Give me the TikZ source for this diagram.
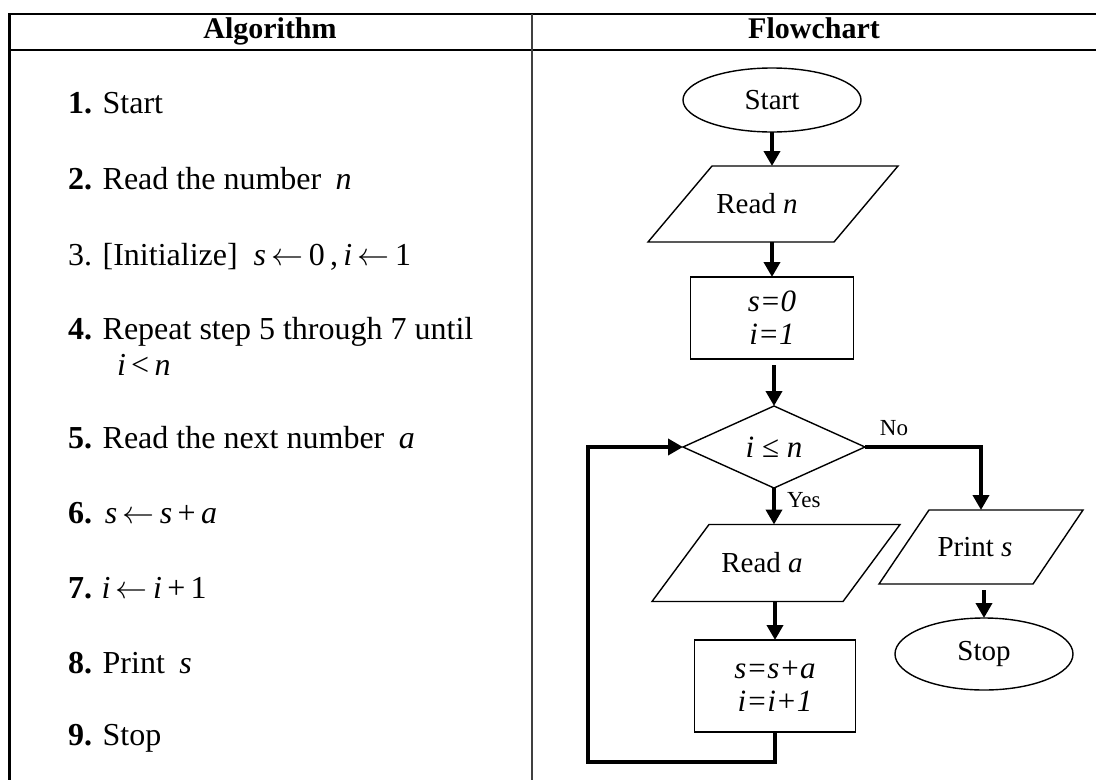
\RequirePackage{fix-cm}
\documentclass[tikz,border=0pt]{standalone}
\usepackage{fontspec}
\setmainfont{Liberation Serif}
\usetikzlibrary{shapes.geometric,arrows.meta}
\newcommand{\paradraw}[2]{\draw[line width=1.4pt, line join=miter] ([xshift=#2]#1.north west) -- (#1.north east) -- ([xshift=-#2]#1.south east) -- (#1.south west) -- cycle;}
\newcommand{\larr}{\,$\leftarrow$\,}
\begin{document}
\begin{tikzpicture}[x=1pt,y=-1pt,
  every node/.style={inner sep=0pt, outer sep=0pt},
  rule/.style={line width=2pt, line cap=rect},
  lst/.style={anchor=base west, font=\fontsize{32}{38}\selectfont},
  hdr/.style={anchor=base, font=\fontsize{30}{36}\selectfont\bfseries},
  term/.style={draw, line width=1.4pt, ellipse, minimum width=178pt, minimum height=#1, font=\fontsize{29}{34}\selectfont},
  io/.style={rectangle, font=\fontsize{29}{34}\selectfont},
  proc/.style={draw, rectangle, line width=1.4pt, align=center, font=\fontsize{31}{33}\selectfont\itshape},
  dec/.style={draw, diamond, line width=1.4pt, minimum width=182pt, minimum height=82pt, font=\fontsize{31}{35}\selectfont},
  arr/.style={line width=4pt, -{Triangle[length=15pt,width=16pt]}},
  lbl/.style={font=\fontsize{23}{26}\selectfont}
]
\useasboundingbox (0,0) rectangle (1096,780);
% table
\draw[rule] (9,14) -- (1096,14);
\draw[rule] (9,50) -- (1096,50);
\draw[line width=2.2pt] (9.5,13) -- (9.5,780);
\draw[line width=1.3pt, black!75] (532,14) -- (532,780);
\node[hdr] (h1) at (270,38) {Algorithm};
\node[hdr] (h2) at (814,38) {Flowchart};
% algorithm
\node[lst] (s1) at (68,113) {\textbf{1.} Start};
\node[lst] (s2) at (68,189) {\textbf{2.} Read the number\hspace{0.45em}\textit{n}};
\node[lst] (s3) at (68,265) {3. [Initialize]\hspace{0.5em}\textit{s}\larr 0\,,\,\textit{i}\larr 1};
\node[lst] (s4) at (68,339) {\textbf{4.} Repeat step 5 through 7 until};
\node[lst] (s4b) at (117,375) {\textit{i}\,<\,\textit{n}};
\node[lst] (s5) at (68,448) {\textbf{5.} Read the next number\hspace{0.45em}\textit{a}};
\node[lst] (s6) at (68,523) {\textbf{6.}\hspace{0.4em}\textit{s}\larr\textit{s}\,+\,\textit{a}};
\node[lst] (s7) at (68,598) {\textbf{7.}\hspace{0.3em}\textit{i}\larr\textit{i}\,+\,1};
\node[lst] (s8) at (68,673) {\textbf{8.} Print\hspace{0.45em}\textit{s}};
\node[lst] (s9) at (68,745) {\textbf{9.} Stop};
% flowchart
\node[term=64pt] (start) at (772,100) {Start};
\node[io, minimum width=250pt, minimum height=76pt] (readn) at (773,204) {Read \textit{n}\hspace*{32pt}};
\paradraw{readn}{64pt}
\node[proc, minimum width=163pt, minimum height=82pt] (init) at (772,318) {s=0\\i=1};
\node[dec] (cond) at (774,447) {\textit{i} ≤ \textit{n}};
\node[io, minimum width=248pt, minimum height=77pt] (reada) at (776,563) {Read \textit{a}\hspace*{28pt}};
\paradraw{reada}{57pt}
\node[proc, minimum width=161pt, minimum height=92pt] (upd) at (775,686) {s=s+a\\i=i+1};
\node[io, minimum width=204pt, minimum height=74pt] (prints) at (981,547) {Print \textit{s}\hspace*{12pt}};
\paradraw{prints}{50pt}
\node[term=72pt] (stop) at (984,654) {Stop};
\coordinate (loopc) at (588,762);
% connectors
\draw[arr] (start.south) -- (start.south |- readn.north);
\draw[arr] (init.north |- readn.south) -- (init.north);
\draw[arr] ([yshift=-6pt]cond.north |- init.south) -- (cond.north);
\draw[arr] (cond.south) -- (cond.south |- reada.north);
\draw[arr] (upd.north |- reada.south) -- (upd.north);
\draw[arr] (cond.east) -| (prints.north);
\draw[arr] ([yshift=-6pt]stop.north |- prints.south) -- (stop.north);
\draw[arr] (upd.south) |- (loopc) |- (cond.west);
\node[lbl, anchor=west] (yes) at (787,500) {Yes};
\node[lbl] (no) at (894,428) {No};
\end{tikzpicture}
\end{document}
